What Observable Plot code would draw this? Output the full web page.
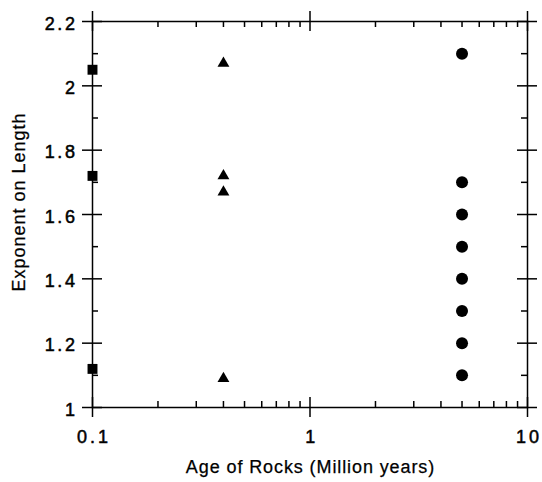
<!DOCTYPE html>
<html>
<head>
<meta charset="utf-8">
<script src="https://cdn.jsdelivr.net/npm/d3@7"></script>
<script src="https://cdn.jsdelivr.net/npm/@observablehq/plot@0.6"></script>
<style>
  html, body { margin: 0; padding: 0; background: #fff; }
  #chart svg { display: block; }
</style>
</head>
<body>
<div id="chart"></div>
<script>
// Data
const squareAge = 0.1;
const squareExp = [2.05, 1.72, 1.12];
const triangleAge = 0.4;
const triangleExp = [2.07, 1.72, 1.67, 1.09];
const circleAge = 5;
const circleExp = [2.1, 1.7, 1.6, 1.5, 1.4, 1.3, 1.2, 1.1];

// Axis ticks
const xMajor = [0.1, 1, 10];
const xMinor = [0.2, 0.3, 0.4, 0.5, 0.6, 0.7, 0.8, 0.9, 2, 3, 4, 5, 6, 7, 8, 9];
const xTickLabels = ["0.1", "1", "10"];
const yMajor = [1, 1.2, 1.4, 1.6, 1.8, 2, 2.2];
const yMinor = [1.1, 1.3, 1.5, 1.7, 1.9, 2.1];
const yTickLabels = ["1", "1.2", "1.4", "1.6", "1.8", "2", "2.2"];
const xTitle = "Age of Rocks (Million years)";
const yTitle = "Exponent on Length";

const W = 542, H = 482;
const mL = 92, mR = 15, mT = 21, mB = 75;
const fw = W - mL - mR, fh = H - mT - mB;
const major = 10, minor = 6;
const sw = 1.5;
const font = "'Liberation Sans', Arial, Helvetica, sans-serif";

const squares = squareExp.map(y => ({x: squareAge, y}));
const triangles = triangleExp.map(y => ({x: triangleAge, y}));
const circles = circleExp.map(y => ({x: circleAge, y}));

const plot = Plot.plot({
  width: W,
  height: H,
  marginLeft: mL,
  marginRight: mR,
  marginTop: mT,
  marginBottom: mB,
  style: {fontFamily: font, color: "black", background: "white"},
  x: {type: "log", domain: [0.1, 10], axis: null},
  y: {domain: [1, 2.2], axis: null},
  marks: [
    Plot.frame({stroke: "black", strokeWidth: sw}),
    // y major ticks (crossing) left & right
    Plot.tickY(yMajor, {y: d => d, insetLeft: -major, insetRight: fw - major, stroke: "black", strokeWidth: sw}),
    Plot.tickY(yMajor, {y: d => d, insetLeft: fw - major, insetRight: -major, stroke: "black", strokeWidth: sw}),
    // y minor ticks (inward)
    Plot.tickY(yMinor, {y: d => d, insetLeft: 0, insetRight: fw - minor, stroke: "black", strokeWidth: sw}),
    Plot.tickY(yMinor, {y: d => d, insetLeft: fw - minor, insetRight: 0, stroke: "black", strokeWidth: sw}),
    // x major ticks (crossing) bottom & top
    Plot.tickX(xMajor, {x: d => d, insetTop: fh - major, insetBottom: -major, stroke: "black", strokeWidth: sw}),
    Plot.tickX(xMajor, {x: d => d, insetTop: -major, insetBottom: fh - major, stroke: "black", strokeWidth: sw}),
    // x minor ticks (inward)
    Plot.tickX(xMinor, {x: d => d, insetTop: fh - minor, insetBottom: 0, stroke: "black", strokeWidth: sw}),
    Plot.tickX(xMinor, {x: d => d, insetTop: 0, insetBottom: fh - minor, stroke: "black", strokeWidth: sw}),
    // tick labels
    Plot.text(yMajor, {y: d => d, text: (d, i) => yTickLabels[i], frameAnchor: "left", textAnchor: "end", dx: -15, dy: 2.5, fontSize: 18, fill: "black", stroke: "black", strokeWidth: 0.5}),
    Plot.text(xMajor, {x: d => d, text: (d, i) => xTickLabels[i], frameAnchor: "bottom", textAnchor: "middle", dy: 35, dx: 1.5, fontSize: 18, fill: "black", stroke: "black", strokeWidth: 0.5}),
    // axis titles
    Plot.text([xTitle], {text: d => d, frameAnchor: "bottom", textAnchor: "middle", dy: 65, dx: 0.5, fontSize: 18, fill: "black", stroke: "black", strokeWidth: 0.25}),
    Plot.text([yTitle], {text: d => d, frameAnchor: "left", textAnchor: "middle", rotate: -90, dx: -73, dy: -12.5, fontSize: 18, fill: "black", stroke: "black", strokeWidth: 0.25}),
    // data
    Plot.dot(squares, {x: "x", y: "y", symbol: "square", r: 5.6, fill: "black", stroke: "none"}),
    Plot.dot(triangles, {x: "x", y: "y", symbol: "triangle", r: 4.4, fill: "black", stroke: "none"}),
    Plot.dot(circles, {x: "x", y: "y", symbol: "circle", r: 6, fill: "black", stroke: "none"})
  ]
});

// widen letter spacing as in the scanned original
plot.querySelectorAll("text").forEach(t => {
  const s = t.textContent;
  let ls = null;
  if (yTickLabels.includes(s)) ls = "2.6px";
  else if (xTickLabels.includes(s)) ls = "3px";
  else if (s === xTitle) ls = "0.9px";
  else if (s === yTitle) ls = "1px";
  if (ls) {
    t.setAttribute("letter-spacing", ls);
    t.style.letterSpacing = ls;
  }
});

document.getElementById("chart").appendChild(plot);
</script>
</body>
</html>
